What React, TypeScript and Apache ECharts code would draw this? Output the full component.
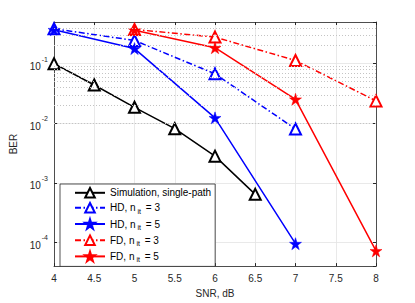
import React, { useEffect, useRef } from "react";
import * as echarts from "echarts";

const snr = [4, 4.5, 5, 5.5, 6, 6.5, 7, 7.5, 8];
const simX = [4, 4.5, 5, 5.5, 6, 6.5];
const simBer = [0.1, 0.0438, 0.0185, 0.0081, 0.0028, 0.00064];
const hd3X = [4, 5, 6, 7];
const hd3Ber = [0.385, 0.245, 0.0674, 0.008];
const hd5X = [4, 5, 6, 7];
const hd5Ber = [0.37, 0.179, 0.0123, 0.000095];
const fd3X = [5, 6, 7, 8];
const fd3Ber = [0.375, 0.279, 0.113, 0.0237];
const fd5X = [5, 6, 7, 8];
const fd5Ber = [0.365, 0.185, 0.0252, 0.000072];
const seriesNames = [
  "Simulation, single-path",
  "HD, n_it = 3",
  "HD, n_it = 5",
  "FD, n_it = 3",
  "FD, n_it = 5",
];
const minorGridValues = [
  5e-5, 6e-5, 7e-5, 8e-5, 9e-5,
  2e-4, 3e-4, 4e-4, 5e-4, 6e-4, 7e-4, 8e-4, 9e-4,
  2e-3, 3e-3, 4e-3, 5e-3, 6e-3, 7e-3, 8e-3, 9e-3,
  2e-2, 3e-2, 4e-2, 5e-2, 6e-2, 7e-2, 8e-2, 9e-2,
  0.2, 0.3, 0.4,
];
const yMin = 4e-5;
const yMax = 0.5;

const STAR =
  "path://M10 0 L12.245 6.91 L19.51 6.91 L13.63 11.18 L15.88 18.09 L10 13.82 L4.12 18.09 L6.37 11.18 L0.49 6.91 L7.755 6.91 Z";

const FONT = "Liberation Sans, Arial, Helvetica, sans-serif";
const AX = "#262626";

function pairs(xs: number[], ys: number[]) {
  return xs.map((x, i) => [x, ys[i]]);
}

export default function App() {
  const ref = useRef<HTMLDivElement>(null);
  useEffect(() => {
    if (!ref.current) return;
    const chart = echarts.init(ref.current, undefined, { renderer: "svg" });
    const mk = (
      name: string,
      data: number[][],
      color: string,
      dashed: boolean,
      star: boolean
    ) => ({
      name,
      type: "line",
      data,
      symbol: star ? STAR : "emptyTriangle",
      symbolSize: star ? 12 : 11,
      showAllSymbol: true,
      lineStyle: {
        color,
        width: 1.5,
        type: dashed ? [6, 2.5, 1.5, 2.5] : "solid",
      },
      itemStyle: star
        ? { color, borderColor: color, borderWidth: 0.5 }
        : { color, borderColor: color, borderWidth: 1.4 },
      z: 3,
    });
    chart.setOption({
      animation: false,
      backgroundColor: "#fff",
      textStyle: { fontFamily: FONT },
      grid: { left: 54, right: 39, top: 22, bottom: 25, containLabel: false },
      xAxis: [
        {
          type: "value",
          min: 4,
          max: 8,
          interval: 0.5,
          name: "SNR, dB",
          nameLocation: "middle",
          nameGap: 20,
          nameTextStyle: { color: AX, fontSize: 10, fontFamily: FONT },
          axisLine: { lineStyle: { color: AX, width: 0.8 } },
          axisTick: { inside: true, length: 3, lineStyle: { color: AX } },
          axisLabel: { color: AX, fontSize: 10, margin: 7, fontFamily: FONT },
          splitLine: { show: true, lineStyle: { color: "#e3e3e3", width: 0.8 } },
          data: snr,
        },
        {
          type: "value",
          position: "top",
          min: 4,
          max: 8,
          interval: 0.5,
          axisLine: { show: true, lineStyle: { color: AX, width: 0.8 } },
          axisTick: { show: true, inside: true, length: 3, lineStyle: { color: AX } },
          axisLabel: { show: false },
          splitLine: { show: false },
        },
      ],
      yAxis: [
        {
          type: "log",
          logBase: 10,
          min: yMin,
          max: yMax,
          name: "BER",
          nameLocation: "middle",
          nameGap: 31,
          nameTextStyle: { color: AX, fontSize: 10, fontFamily: FONT },
          axisLine: { show: true, lineStyle: { color: AX, width: 0.8 } },
          axisTick: { inside: true, length: 3, lineStyle: { color: AX } },
          axisLabel: {
            color: AX,
            margin: 6,
            showMinLabel: false,
            showMaxLabel: false,
            formatter: (v: number) => {
              const e = Math.round(Math.log10(v));
              return `{b|10}{s|${e}}`;
            },
            rich: {
              b: { fontSize: 10, color: AX, fontFamily: FONT, lineHeight: 16, verticalAlign: "bottom" },
              s: { fontSize: 7, color: AX, fontFamily: FONT, lineHeight: 16, verticalAlign: "top", padding: [0, 0, 0, 1] },
            },
          },
          splitLine: { show: true, lineStyle: { color: "#e3e3e3", width: 0.8 } },
        },
        {
          type: "log",
          logBase: 10,
          position: "right",
          min: yMin,
          max: yMax,
          axisLine: { show: true, lineStyle: { color: AX, width: 0.8 } },
          axisTick: { show: true, inside: true, length: 3, lineStyle: { color: AX } },
          axisLabel: { show: false },
          splitLine: { show: false },
        },
      ],
      legend: {
        orient: "vertical",
        left: 60,
        top: 184,
        data: seriesNames,
        itemWidth: 30,
        itemHeight: 12,
        itemGap: 3.4,
        padding: [3, 4, 3, 14],
        backgroundColor: "#fff",
        borderColor: AX,
        borderWidth: 0.8,
        borderRadius: 0,
        textStyle: {
          color: "#000",
          fontSize: 10,
          fontFamily: FONT,
          rich: {
            t: { fontSize: 10, fontFamily: FONT, color: "#000" },
            sub: { fontSize: 7, fontFamily: FONT, color: "#000", padding: [7, 2, 0, 2] },
          },
        },
        formatter: (name: string) =>
          name.includes("n_it")
            ? name.replace(/^(.*)n_it(.*)$/, "{t|$1n}{sub|it}{t|$2}")
            : name,
      },
      series: [
        {
          type: "line",
          data: [],
          silent: true,
          symbol: "none",
          markLine: {
            silent: true,
            symbol: "none",
            label: { show: false },
            lineStyle: { color: "#c4c4c4", type: [1, 2], width: 1 },
            data: minorGridValues.map((v) => ({ yAxis: v })),
          },
          z: 1,
        },
        mk(seriesNames[0], pairs(simX, simBer), "#000000", false, false),
        mk(seriesNames[1], pairs(hd3X, hd3Ber), "#0000ff", true, false),
        mk(seriesNames[2], pairs(hd5X, hd5Ber), "#0000ff", false, true),
        mk(seriesNames[3], pairs(fd3X, fd3Ber), "#ff0000", true, false),
        mk(seriesNames[4], pairs(fd5X, fd5Ber), "#ff0000", false, true),
      ],
    });
    return () => chart.dispose();
  }, []);
  return <div ref={ref} style={{ width: 415, height: 303, marginLeft: -8, marginTop: -8 }} />;
}
